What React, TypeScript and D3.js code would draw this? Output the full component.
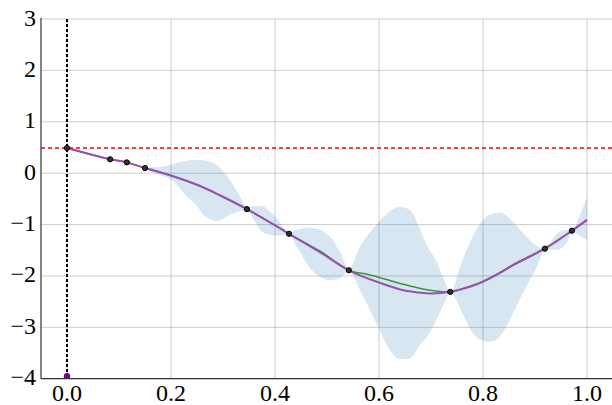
import React from "react";
import * as d3 from "d3";

// ---- data ----
const obsX = [0.0, 0.083, 0.115, 0.15, 0.346, 0.427, 0.542, 0.737, 0.919, 0.971];
const obsY = [0.49, 0.27, 0.21, 0.1, -0.7, -1.18, -1.89, -2.31, -1.47, -1.12];

const meanX = [0.0, 0.083, 0.115, 0.15, 0.198, 0.256, 0.294, 0.346, 0.406, 0.427, 0.487, 0.542, 0.598, 0.652, 0.698, 0.737, 0.775, 0.794, 0.833, 0.858, 0.919, 0.971, 1.0];
const meanY = [0.49, 0.27, 0.21, 0.1, -0.04, -0.25, -0.43, -0.7, -1.05, -1.18, -1.54, -1.89, -2.12, -2.29, -2.34, -2.31, -2.21, -2.14, -1.94, -1.79, -1.47, -1.12, -0.91];

const trueX = [0.0, 0.083, 0.115, 0.15, 0.198, 0.256, 0.294, 0.346, 0.406, 0.427, 0.487, 0.542, 0.583, 0.646, 0.692, 0.723, 0.737, 0.775, 0.794, 0.833, 0.858, 0.919, 0.971, 1.0];
const trueY = [0.49, 0.27, 0.21, 0.1, -0.04, -0.25, -0.43, -0.7, -1.05, -1.18, -1.52, -1.89, -1.98, -2.16, -2.27, -2.31, -2.31, -2.2, -2.13, -1.93, -1.78, -1.46, -1.12, -0.91];

const bandX = [0.0, 0.083, 0.15, 0.179, 0.198, 0.231, 0.25, 0.262, 0.275, 0.288, 0.294, 0.313, 0.333, 0.346, 0.362, 0.375, 0.39, 0.406, 0.427, 0.442, 0.467, 0.487, 0.506, 0.525, 0.542, 0.563, 0.598, 0.621, 0.64, 0.66, 0.679, 0.692, 0.712, 0.725, 0.737, 0.762, 0.779, 0.794, 0.813, 0.833, 0.858, 0.871, 0.89, 0.904, 0.919, 0.942, 0.962, 0.971, 0.987, 1.0];
const bandUp = [0.51, 0.29, 0.11, 0.12, 0.16, 0.24, 0.26, 0.25, 0.22, 0.16, 0.1, -0.13, -0.46, -0.68, -0.64, -0.64, -0.75, -0.91, -1.16, -1.1, -1.06, -1.1, -1.24, -1.53, -1.86, -1.44, -0.97, -0.74, -0.66, -0.72, -1.1, -1.4, -1.75, -2.08, -2.29, -1.65, -1.26, -0.99, -0.81, -0.77, -0.95, -1.1, -1.3, -1.42, -1.47, -1.18, -1.1, -1.11, -0.81, -0.46];
const bandLo = [0.47, 0.27, 0.09, -0.04, -0.11, -0.46, -0.64, -0.81, -0.89, -0.93, -0.92, -0.81, -0.74, -0.71, -0.95, -1.14, -1.2, -1.22, -1.2, -1.44, -1.84, -2.02, -2.08, -2.04, -1.9, -2.27, -2.99, -3.44, -3.62, -3.6, -3.34, -3.19, -2.82, -2.53, -2.33, -2.76, -3.09, -3.23, -3.28, -3.17, -2.72, -2.45, -2.08, -1.81, -1.49, -1.49, -1.34, -1.15, -1.22, -1.3];

const xTicks = [0.0, 0.2, 0.4, 0.6, 0.8, 1.0];
const yTicks = [-4, -3, -2, -1, 0, 1, 2, 3];
const bestY = 0.49;
const bestX = 0.0;
const nextPointY = -3.95;

const W = 612;
const H = 405;
const left = 41;
const right = 613;
const top = 19;
const bottom = 378.7;
const FONT = "Liberation Serif, DejaVu Serif, serif";

export default function App() {
  const x = d3.scaleLinear().domain([-0.05, 1.05]).range([left, right]);
  const y = d3.scaleLinear().domain([-4, 3]).range([bottom, top]);

  const area = d3
    .area<number>()
    .x((_, i) => x(bandX[i]))
    .y0((_, i) => y(bandLo[i]))
    .y1((_, i) => y(bandUp[i]))
    .curve(d3.curveMonotoneX);
  const meanLine = d3
    .line<number>()
    .x((_, i) => x(meanX[i]))
    .y((d) => y(d))
    .curve(d3.curveCatmullRom.alpha(0.5));
  const trueLine = d3
    .line<number>()
    .x((_, i) => x(trueX[i]))
    .y((d) => y(d))
    .curve(d3.curveCatmullRom.alpha(0.5));

  const fmtMinus = (v: number) => (v < 0 ? "\u2212" + Math.abs(v) : String(v));

  return (
    <svg width={W} height={H} style={{ position: "absolute", left: 0, top: 0, fontFamily: FONT }}>
      <defs>
        <clipPath id="plot">
          <rect x={left} y={top} width={right - left} height={bottom - top} />
        </clipPath>
      </defs>
      <rect x={0} y={0} width={W} height={H} fill="#ffffff" />
      {/* grid */}
      <g stroke="#b0b0b0" strokeWidth={0.8} strokeOpacity={0.8}>
        {yTicks.filter((t) => t > -4).map((t) => (
          <line key={"gy" + t} x1={left} x2={right} y1={y(t)} y2={y(t)} />
        ))}
        {xTicks.map((t) => (
          <line key={"gx" + t} x1={x(t)} x2={x(t)} y1={top} y2={bottom} />
        ))}
      </g>
      <g clipPath="url(#plot)">
        <path d={area(bandX) || ""} fill="#1f77b4" fillOpacity={0.18} stroke="none" />
        <path d={trueLine(trueY) || ""} fill="none" stroke="#2ca02c" strokeWidth={1.5} />
        <path d={meanLine(meanY) || ""} fill="none" stroke="#9b4fb0" strokeWidth={2} />
        <line x1={left} x2={right} y1={y(bestY)} y2={y(bestY)} stroke="#ff0000" strokeWidth={1.5} strokeDasharray="4,3" />
        <line x1={x(bestX)} x2={x(bestX)} y1={top} y2={bottom} stroke="#000000" strokeWidth={2} strokeDasharray="3,2" />
        {obsX.map((v, i) => (
          <circle key={"o" + i} cx={x(v)} cy={y(obsY[i])} r={2.6} fill="#333" stroke="#000" strokeWidth={1} />
        ))}
        <circle cx={x(bestX)} cy={y(nextPointY)} r={3.2} fill="#800080" />
      </g>
      {/* spines */}
      <line x1={left} x2={left} y1={top - 1} y2={bottom} stroke="#333" strokeWidth={1.2} />
      <line x1={left} x2={right} y1={bottom} y2={bottom} stroke="#333" strokeWidth={1.2} />
      {/* tick labels */}
      {yTicks.map((t) => (
        <text key={"ty" + t} x={36} y={y(t) + 6.5} textAnchor="end" style={{ fontFamily: FONT, fontSize: "24px" }} fill="#000">
          {fmtMinus(t)}
        </text>
      ))}
      {xTicks.map((t) => (
        <text key={"tx" + t} x={x(t)} y={bottom + 22} textAnchor="middle" style={{ fontFamily: FONT, fontSize: "24px" }} fill="#000">
          {t.toFixed(1)}
        </text>
      ))}
    </svg>
  );
}
